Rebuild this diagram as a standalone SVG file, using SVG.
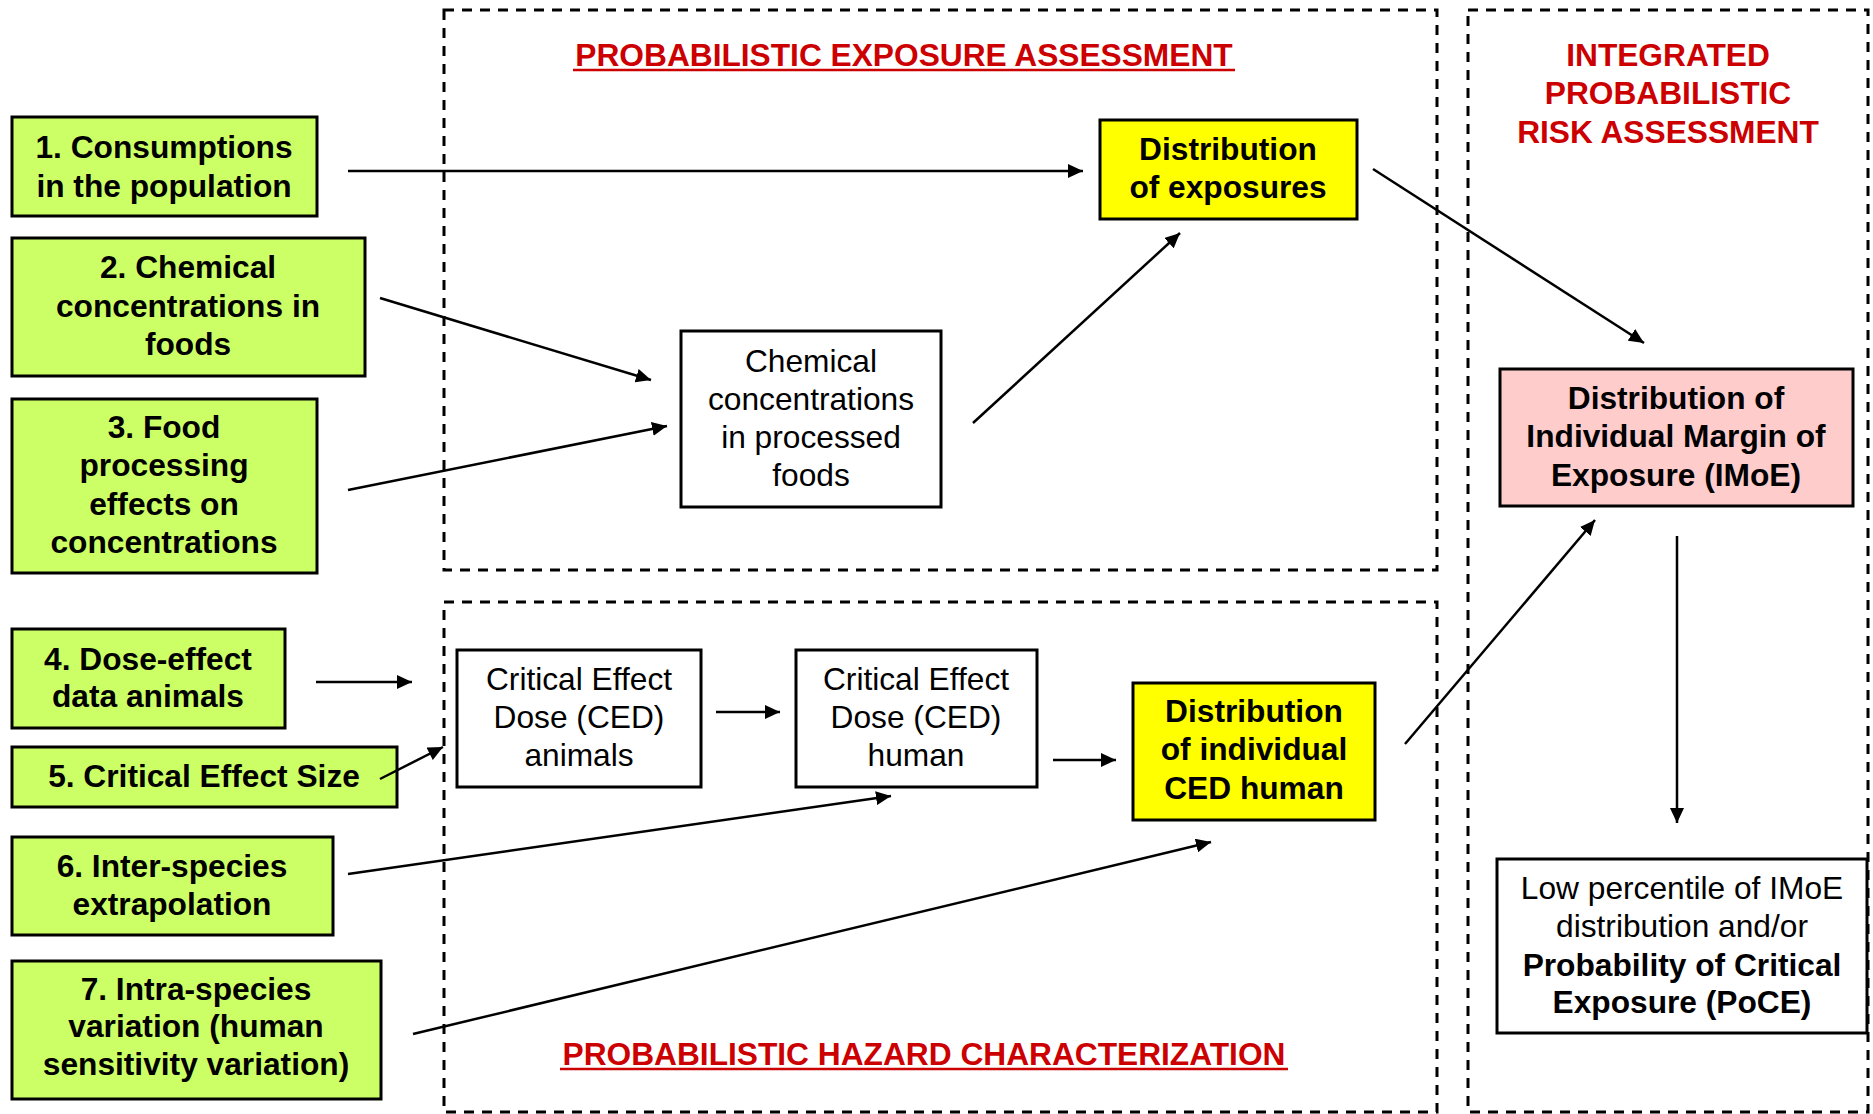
<svg xmlns="http://www.w3.org/2000/svg" width="1873" height="1114" viewBox="0 0 1873 1114">
<defs>
<marker id="ah" markerUnits="userSpaceOnUse" markerWidth="16" markerHeight="14" refX="15" refY="7" orient="auto">
<path d="M0,0 L15,7 L0,14 z" fill="#000"/>
</marker>
<style>
.t{font-family:"Liberation Sans",Arial,sans-serif;font-size:31.7px;text-anchor:middle;fill:#000}
.b{font-weight:bold}
.red{fill:#CC0000;font-weight:bold}
.g{fill:#CCFF66;stroke:#000;stroke-width:3}
.y{fill:#FFFF00;stroke:#000;stroke-width:3}
.w{fill:#FFFFFF;stroke:#000;stroke-width:3}
.p{fill:#FFCCCC;stroke:#000;stroke-width:3}
.d{fill:none;stroke:#000;stroke-width:3;stroke-dasharray:10 8}
.c{stroke:#000;stroke-width:2.5;fill:none;marker-end:url(#ah)}
</style>
</defs>
<rect width="1873" height="1114" fill="#fff"/>

<g id="regions">
<rect class="d" x="444" y="10" width="993" height="560"/>
<rect class="d" x="444" y="602" width="993" height="510"/>
<rect class="d" x="1468" y="10" width="400" height="1102"/>
<text class="t red" x="904" y="66">PROBABILISTIC EXPOSURE ASSESSMENT</text>
<line x1="573" y1="70" x2="1235" y2="70" stroke="#CC0000" stroke-width="2.5"/>
<text class="t red" x="924" y="1065">PROBABILISTIC HAZARD CHARACTERIZATION</text>
<line x1="560" y1="1069" x2="1288" y2="1069" stroke="#CC0000" stroke-width="2.5"/>
<text class="t red" x="1668" y="66">INTEGRATED</text>
<text class="t red" x="1668" y="104">PROBABILISTIC</text>
<text class="t red" x="1668" y="143">RISK ASSESSMENT</text>
</g>

<g id="n1"><rect class="g" x="12" y="117" width="305" height="99"/>
<text class="t b" x="164" y="158">1. Consumptions</text>
<text class="t b" x="164" y="197">in the population</text></g>

<g id="n2"><rect class="g" x="12" y="238" width="353" height="138"/>
<text class="t b" x="188" y="278">2. Chemical</text>
<text class="t b" x="188" y="317">concentrations in</text>
<text class="t b" x="188" y="355">foods</text></g>

<g id="n3"><rect class="g" x="12" y="399" width="305" height="174"/>
<text class="t b" x="164" y="438">3. Food</text>
<text class="t b" x="164" y="476">processing</text>
<text class="t b" x="164" y="515">effects on</text>
<text class="t b" x="164" y="553">concentrations</text></g>

<g id="n4"><rect class="g" x="12" y="629" width="273" height="99"/>
<text class="t b" x="148" y="670">4. Dose-effect</text>
<text class="t b" x="148" y="707">data animals</text></g>

<g id="n5"><rect class="g" x="12" y="747" width="385" height="60"/>
<text class="t b" x="204" y="787">5. Critical Effect Size</text></g>

<g id="n6"><rect class="g" x="12" y="837" width="321" height="98"/>
<text class="t b" x="172" y="877">6. Inter-species</text>
<text class="t b" x="172" y="915">extrapolation</text></g>

<g id="n7"><rect class="g" x="12" y="961" width="369" height="138"/>
<text class="t b" x="196" y="1000">7. Intra-species</text>
<text class="t b" x="196" y="1037">variation (human</text>
<text class="t b" x="196" y="1075">sensitivity variation)</text></g>

<g id="distExp"><rect class="y" x="1100" y="120" width="257" height="99"/>
<text class="t b" x="1228" y="160">Distribution</text>
<text class="t b" x="1228" y="198">of exposures</text></g>

<g id="chemProc"><rect class="w" x="681" y="331" width="260" height="176"/>
<text class="t" x="811" y="372">Chemical</text>
<text class="t" x="811" y="410">concentrations</text>
<text class="t" x="811" y="448">in processed</text>
<text class="t" x="811" y="486">foods</text></g>

<g id="cedAnimals"><rect class="w" x="457" y="650" width="244" height="137"/>
<text class="t" x="579" y="690">Critical Effect</text>
<text class="t" x="579" y="728">Dose (CED)</text>
<text class="t" x="579" y="766">animals</text></g>

<g id="cedHuman"><rect class="w" x="796" y="650" width="241" height="137"/>
<text class="t" x="916" y="690">Critical Effect</text>
<text class="t" x="916" y="728">Dose (CED)</text>
<text class="t" x="916" y="766">human</text></g>

<g id="distCed"><rect class="y" x="1133" y="683" width="242" height="137"/>
<text class="t b" x="1254" y="722">Distribution</text>
<text class="t b" x="1254" y="760">of individual</text>
<text class="t b" x="1254" y="799">CED human</text></g>

<g id="imoe"><rect class="p" x="1500" y="369" width="353" height="137"/>
<text class="t b" x="1676" y="409">Distribution of</text>
<text class="t b" x="1676" y="447">Individual Margin of</text>
<text class="t b" x="1676" y="486">Exposure (IMoE)</text></g>

<g id="poce"><rect class="w" x="1497" y="859" width="370" height="174"/>
<text class="t" x="1682" y="899">Low percentile of IMoE</text>
<text class="t" x="1682" y="937">distribution and/or</text>
<text class="t b" x="1682" y="976">Probability of Critical</text>
<text class="t b" x="1682" y="1013">Exposure (PoCE)</text></g>

<g id="connectors">
<line class="c" x1="348" y1="171" x2="1083" y2="171"/>
<line class="c" x1="380" y1="298" x2="651" y2="380"/>
<line class="c" x1="348" y1="490" x2="667" y2="426"/>
<line class="c" x1="973" y1="423" x2="1180" y2="233"/>
<line class="c" x1="1373" y1="169" x2="1644" y2="343"/>
<line class="c" x1="316" y1="682" x2="412" y2="682"/>
<line class="c" x1="380" y1="779" x2="443" y2="747"/>
<line class="c" x1="716" y1="712" x2="780" y2="712"/>
<line class="c" x1="1053" y1="760" x2="1116" y2="760"/>
<line class="c" x1="348" y1="874" x2="891" y2="796"/>
<line class="c" x1="413" y1="1034" x2="1211" y2="842"/>
<line class="c" x1="1405" y1="744" x2="1595" y2="520"/>
<line class="c" x1="1677" y1="536" x2="1677" y2="823"/>
</g>
</svg>
